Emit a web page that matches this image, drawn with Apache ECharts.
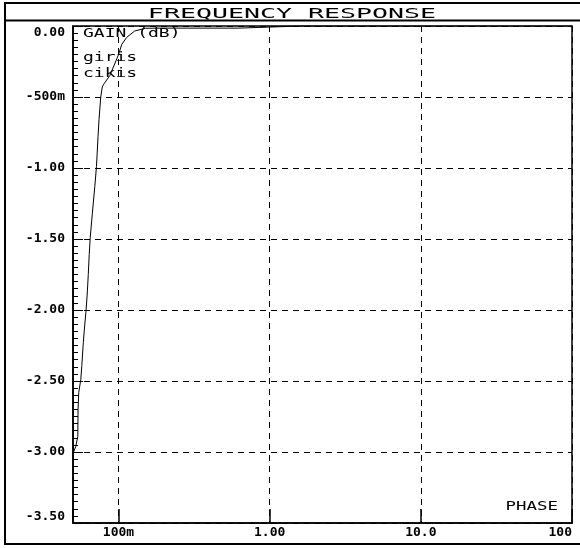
<!DOCTYPE html>
<html>
<head>
<meta charset="utf-8">
<script src="https://cdn.jsdelivr.net/npm/echarts@6/dist/echarts.min.js"></script>
<style>
  html, body { margin: 0; padding: 0; background: #fff; }
  #chart { width: 580px; height: 548px; }
</style>
</head>
<body>
<div id="chart"></div>
<script>
// Frequency sweep (Hz) and gain (dB) of the output trace
var frequency = [0.05, 0.0522, 0.0538, 0.054, 0.0546, 0.0563, 0.0572, 0.0585, 0.0594, 0.0608,
  0.0617, 0.0623, 0.0631, 0.064, 0.065, 0.067, 0.0697, 0.0715, 0.0732, 0.0743,
  0.0763, 0.0781, 0.0798, 0.0875, 0.1002, 0.105, 0.1133, 0.128, 0.151, 0.19,
  0.621, 1.6, 10, 100];
var gainDb = [-3.01, -2.96, -2.89, -2.70, -2.58, -2.49, -2.39, -2.23, -2.14, -2.02,
  -1.93, -1.86, -1.75, -1.61, -1.49, -1.33, -1.13, -0.99, -0.78, -0.66,
  -0.50, -0.43, -0.41, -0.35, -0.20, -0.13, -0.08, -0.035, -0.016, -0.015,
  -0.015, 0, 0, 0];

// Axis tick labels
var xTickLabels = { '-1': '100m', '0': '1.00', '1': '10.0', '2': '100' };
var yTickLabels = { '-0.5': '-500m' };

var chartTitle = 'FREQUENCY RESPONSE';
var plotNotes = ['GAIN (dB)', 'giris', 'cikis'];
var phaseNote = 'PHASE';

var mono = 'DejaVu Sans Mono';
var dash = [6, 5];

var points = frequency.map(function (f, i) { return [f, gainDb[i]]; });

var chart = echarts.init(document.getElementById('chart'), null, { renderer: 'canvas' });

var graphics = [
  { type: 'rect', shape: { x: 5, y: 3, width: 590, height: 541 },
    style: { fill: 'none', stroke: '#000', lineWidth: 2 }, silent: true },
  { type: 'line', shape: { x1: 5, y1: 20.5, x2: 590, y2: 20.5 },
    style: { stroke: '#000', lineWidth: 2 }, silent: true },
  { type: 'text', x: 292, y: 14, scaleX: 1.9,
    style: { text: chartTitle, fontFamily: mono, fontSize: 14, fill: '#000',
      textAlign: 'center', textVerticalAlign: 'middle' } }
];
var noteY = [34, 58, 74];
plotNotes.forEach(function (t, i) {
  graphics.push({ type: 'text', x: 83, y: noteY[i], scaleX: 1.5, z: 10,
    style: { text: t, fontFamily: mono, fontSize: 12, fill: '#000',
      textAlign: 'left', textVerticalAlign: 'middle' } });
});
graphics.push({ type: 'text', x: 558, y: 507, scaleX: 1.45, z: 10,
  style: { text: phaseNote, fontFamily: mono, fontSize: 12, fill: '#000',
    textAlign: 'right', textVerticalAlign: 'middle' } });

chart.setOption({
  animation: false,
  backgroundColor: '#fff',
  grid: {
    left: 73, top: 26, right: 8, bottom: 25,
    show: true, borderColor: '#000', borderWidth: 1.5,
    containLabel: false
  },
  xAxis: {
    type: 'log',
    logBase: 10,
    min: 0.05,
    max: 100,
    position: 'bottom',
    axisLine: { show: true, onZero: false, lineStyle: { color: '#000', width: 1.5 } },
    axisTick: { show: true, inside: true, length: 14, lineStyle: { color: '#000', width: 1.5 } },
    minorTick: { show: false },
    splitLine: { show: true, lineStyle: { color: '#000', width: 1, type: dash } },
    axisLabel: {
      color: '#000', fontFamily: mono, fontSize: 13, fontWeight: 'bold', margin: 3,
      alignMaxLabel: 'right',
      formatter: function (v) {
        var k = String(Math.round(Math.log10(v) * 1000) / 1000);
        return xTickLabels[k] !== undefined ? xTickLabels[k] : '';
      }
    }
  },
  yAxis: {
    type: 'value',
    min: -3.5,
    max: 0,
    interval: 0.5,
    position: 'left',
    axisLine: { show: true, onZero: false, lineStyle: { color: '#000', width: 1.5 } },
    axisTick: { show: true, inside: true, length: 10, lineStyle: { color: '#000', width: 1 } },
    minorTick: { show: true, splitNumber: 10, length: 5, lineStyle: { color: '#000', width: 1 } },
    splitLine: { show: true, lineStyle: { color: '#000', width: 1, type: dash } },
    axisLabel: {
      color: '#000', fontFamily: mono, fontSize: 13, fontWeight: 'bold', margin: 8,
      verticalAlignMaxLabel: 'top',
      verticalAlignMinLabel: 'bottom',
      formatter: function (v) {
        var k = String(Math.round(v * 100) / 100);
        return yTickLabels[k] !== undefined ? yTickLabels[k] : v.toFixed(2);
      }
    }
  },
  series: [{
    type: 'line',
    data: points,
    showSymbol: false,
    smooth: false,
    lineStyle: { color: '#000', width: 1 },
    z: 5
  }],
  graphic: graphics
});
</script>
</body>
</html>
